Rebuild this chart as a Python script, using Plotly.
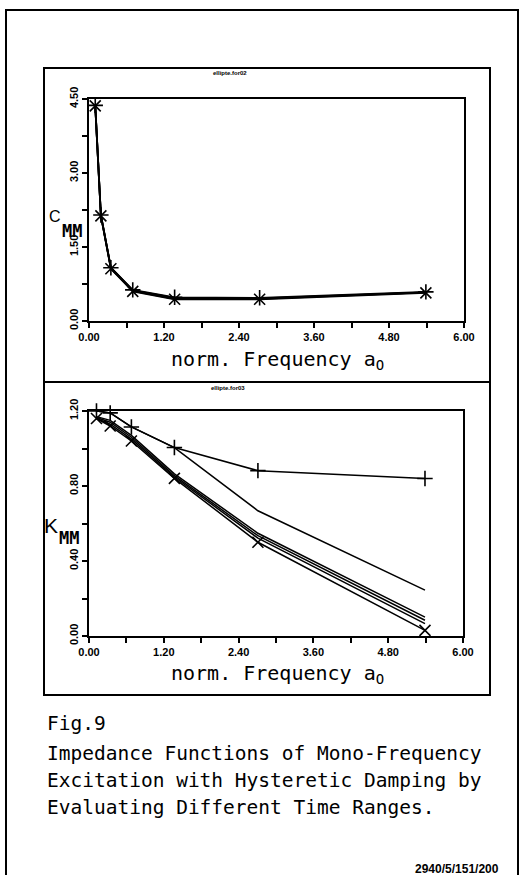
import plotly.graph_objects as go

W, H = 521, 875

# ---------------- data ----------------
freq_top = [0.10, 0.19, 0.35, 0.70, 1.37, 2.73, 5.39]
c_mm_1 = [4.37, 2.15, 1.08, 0.63, 0.48, 0.47, 0.59]
c_mm_2 = [4.37, 2.15, 1.08, 0.62, 0.47, 0.46, 0.58]
c_mm_3 = [4.36, 2.14, 1.07, 0.61, 0.45, 0.45, 0.58]
c_mm_4 = [4.36, 2.13, 1.06, 0.60, 0.44, 0.44, 0.57]

freq_bot = [0.12, 0.34, 0.68, 1.37, 2.71, 5.39]
k_mm_1 = [1.20, 1.19, 1.115, 1.005, 0.882, 0.840]
k_mm_2 = [1.20, 1.19, 1.115, 1.005, 0.668, 0.245]
k_mm_3 = [1.17, 1.15, 1.07, 0.865, 0.548, 0.101]
k_mm_4 = [1.165, 1.14, 1.06, 0.855, 0.535, 0.084]
k_mm_5 = [1.16, 1.13, 1.05, 0.848, 0.522, 0.066]
k_mm_6 = [1.16, 1.12, 1.04, 0.841, 0.500, 0.030]

x_ticks = [0, 1.2, 2.4, 3.6, 4.8, 6.0]
x_tick_labels = ["0.00", "1.20", "2.40", "3.60", "4.80", "6.00"]
y_ticks_top = [0, 1.5, 3.0, 4.5]
y_tick_labels_top = ["0.00", "1.50", "3.00", "4.50"]
y_ticks_bot = [0, 0.4, 0.8, 1.2]
y_tick_labels_bot = ["0.00", "0.40", "0.80", "1.20"]

caption = ["Fig.9",
           "Impedance Functions of Mono-Frequency",
           "Excitation with Hysteretic Damping by",
           "Evaluating Different Time Ranges."]

# ---------------- helpers ----------------
def px(x):
    return x / W

def py(y):
    return 1 - y / H

MONO = "DejaVu Sans Mono"
SANS = "Liberation Sans, Arial, sans-serif"

fig = go.Figure()

def add_series(x, y, xa, ya, symbol=None, width=1.5):
    mode = "lines+markers" if symbol else "lines"
    fig.add_trace(go.Scatter(
        x=x, y=y, xaxis=xa, yaxis=ya, mode=mode,
        line=dict(color="black", width=width),
        marker=dict(symbol=symbol or "circle", size=11, color="black",
                    line=dict(color="black", width=1.6)),
        cliponaxis=False, showlegend=False, hoverinfo="skip"))

# top panel
add_series(freq_top, c_mm_1, "x", "y", "cross-thin-open", 1.8)
add_series(freq_top, c_mm_2, "x", "y", None, 1.8)
add_series(freq_top, c_mm_3, "x", "y", None, 1.8)
add_series(freq_top, c_mm_4, "x", "y", "x-thin-open", 1.8)

# bottom panel
add_series(freq_bot, k_mm_1, "x2", "y2", "cross-thin-open")
add_series(freq_bot, k_mm_2, "x2", "y2")
add_series(freq_bot, k_mm_3, "x2", "y2")
add_series(freq_bot, k_mm_4, "x2", "y2")
add_series(freq_bot, k_mm_5, "x2", "y2")
add_series(freq_bot, k_mm_6, "x2", "y2", "x-thin-open")

axis_common = dict(showline=True, linecolor="black", linewidth=2, mirror=True,
                   ticks="outside", ticklen=5, tickwidth=2, tickcolor="black",
                   showgrid=False, zeroline=False, automargin=False,
                   tickfont=dict(family=SANS, size=11, color="black", weight="bold"))

def xaxis(domain, anchor):
    return dict(axis_common, domain=domain, anchor=anchor, range=[0, 6],
                tickmode="array", tickvals=x_ticks, ticktext=x_tick_labels,
                minor=dict(ticks="outside", dtick=0.6, tick0=0, ticklen=5,
                           tickwidth=2, tickcolor="black"))

def yaxis(domain, anchor, rng, vals, labels, minor_dt):
    return dict(axis_common, domain=domain, anchor=anchor, range=rng,
                tickmode="array", tickvals=vals, ticktext=labels, tickangle=-90,
                minor=dict(ticks="outside", dtick=minor_dt, tick0=0, ticklen=5,
                           tickwidth=2, tickcolor="black"))

fig.update_layout(
    template="none",
    width=W, height=H, autosize=False,
    margin=dict(l=0, r=0, t=0, b=0, pad=0, autoexpand=False),
    paper_bgcolor="white", plot_bgcolor="white",
    xaxis=xaxis([px(89), px(464)], "y"),
    yaxis=yaxis([py(321), py(99)], "x", [0, 4.5], y_ticks_top, y_tick_labels_top, 0.75),
    xaxis2=xaxis([px(89), px(463)], "y2"),
    yaxis2=yaxis([py(636), py(411)], "x2", [0, 1.2], y_ticks_bot, y_tick_labels_bot, 0.2),
)

# frames
shapes = [
    dict(type="rect", xref="paper", yref="paper", x0=px(6), x1=px(518),
         y0=py(900), y1=py(10), line=dict(color="black", width=2)),
    dict(type="rect", xref="paper", yref="paper", x0=px(44), x1=px(490),
         y0=py(695), y1=py(68), line=dict(color="black", width=2)),
    dict(type="line", xref="paper", yref="paper", x0=px(44), x1=px(490),
         y0=py(382), y1=py(382), line=dict(color="black", width=2)),
]
fig.update_layout(shapes=shapes)

ann = []
def text(x, y, s, size, family=MONO, xanchor="center", yanchor="middle", weight="normal"):
    ann.append(dict(x=px(x), y=py(y), xref="paper", yref="paper", text=s,
                    showarrow=False, xanchor=xanchor, yanchor=yanchor,
                    font=dict(family=family, size=size, color="black", weight=weight)))

# tiny plot-file titles
text(230, 73, "ellipte.for02", 6, SANS, weight="bold")
text(228, 388, "ellipte.for03", 6, SANS, weight="bold")

# x axis titles
text(277, 360, "norm. Frequency a<sub>O</sub>", 20)
text(277, 674, "norm. Frequency a<sub>O</sub>", 20)

# y axis titles
text(55, 216, "C", 16, SANS)
text(72, 231, "MM", 17, MONO, weight="bold")
text(51, 525, "K", 21, SANS)
text(69, 538, "MM", 17, MONO, weight="bold")

# caption
cap_y = [723, 753, 780, 807]
for s, yy in zip(caption, cap_y):
    text(45, yy, s, 19.5, xanchor="left")

# footer
text(501, 869, "2940/5/151/200", 12, SANS, xanchor="right", weight="bold")

fig.update_layout(annotations=ann)
fig.write_html("out.html",
               config=dict(displayModeBar=False, staticPlot=True),
               post_script="document.body.style.margin='0px';"
                           "document.body.style.padding='0px';"
                           "document.body.style.overflow='hidden';")
